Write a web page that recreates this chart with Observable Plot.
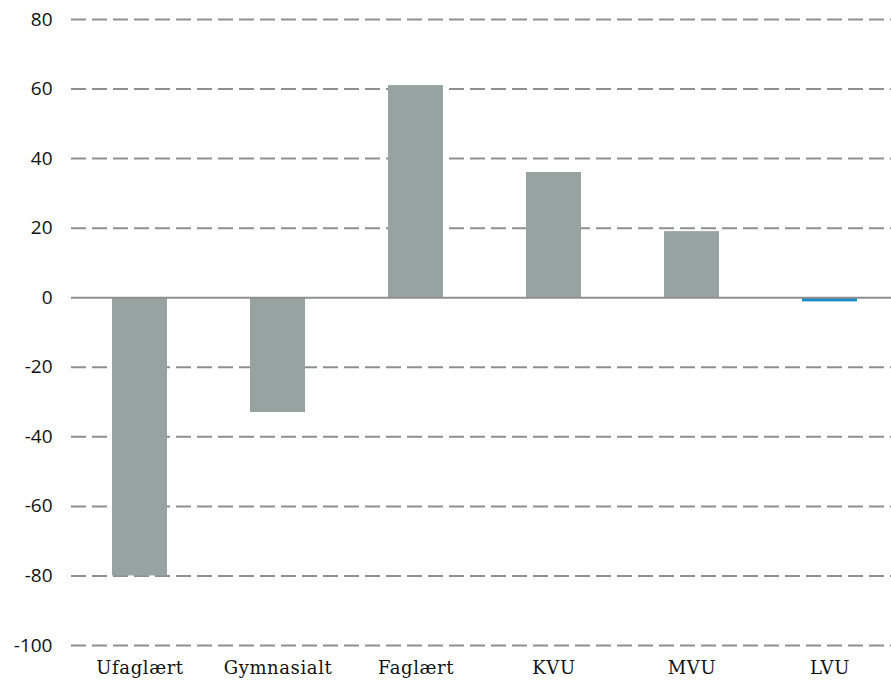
<!DOCTYPE html>
<html>
<head>
<meta charset="utf-8">
<script src="https://cdn.jsdelivr.net/npm/d3@7"></script>
<script src="https://cdn.jsdelivr.net/npm/@observablehq/plot@0.6"></script>
<style>
  html, body { margin: 0; padding: 0; background: #fff; }
  #chart svg { display: block; }
  .xlab text { letter-spacing: 0.6px; }
</style>
</head>
<body>
<div id="chart"></div>
<script>
const categories = ["Ufaglært", "Gymnasialt", "Faglært", "KVU", "MVU", "LVU"];
const values = [-80, -33, 61, 36, 19, -1.2];
const highlight = ["LVU"];
const yTicks = [-100, -80, -60, -40, -20, 0, 20, 40, 60, 80];

const data = categories.map((c, i) => ({ cat: c, value: values[i], hl: highlight.includes(c) }));

const chart = Plot.plot({
  width: 891,
  height: 680,
  marginLeft: 71,
  marginRight: 0,
  marginTop: 19,
  marginBottom: 35,
  x: {
    domain: categories,
    range: [70.5, 898.5],
    paddingInner: 0.6,
    paddingOuter: 0.3,
    label: null
  },
  y: {
    domain: [-100, 80],
    ticks: yTicks,
    label: null
  },
  marks: [
    Plot.ruleY(yTicks.filter(d => d !== 0), {
      stroke: "#8f8f8f",
      strokeWidth: 2,
      strokeDasharray: "15,6"
    }),
    Plot.barY(data, {
      x: "cat",
      y: "value",
      fill: d => d.hl ? "#1b8dcb" : "#97a3a1"
    }),
    Plot.ruleY([0], { stroke: "#8f8f8f", strokeWidth: 2 }),
    Plot.axisY({
      ticks: yTicks,
      tickFormat: d => String(d),
      tickSize: 0,
      tickPadding: 19,
      fontSize: 19,
      fontFamily: "Open Sans",
      fill: "#111"
    }),
    Plot.axisX({
      tickSize: 0,
      tickPadding: 16,
      fontSize: 18,
      fontFamily: "DejaVu Serif",
      fill: "#111",
      className: "xlab"
    })
  ]
});
chart.style.fontFamily = "Open Sans";
document.getElementById("chart").appendChild(chart);
</script>
</body>
</html>
